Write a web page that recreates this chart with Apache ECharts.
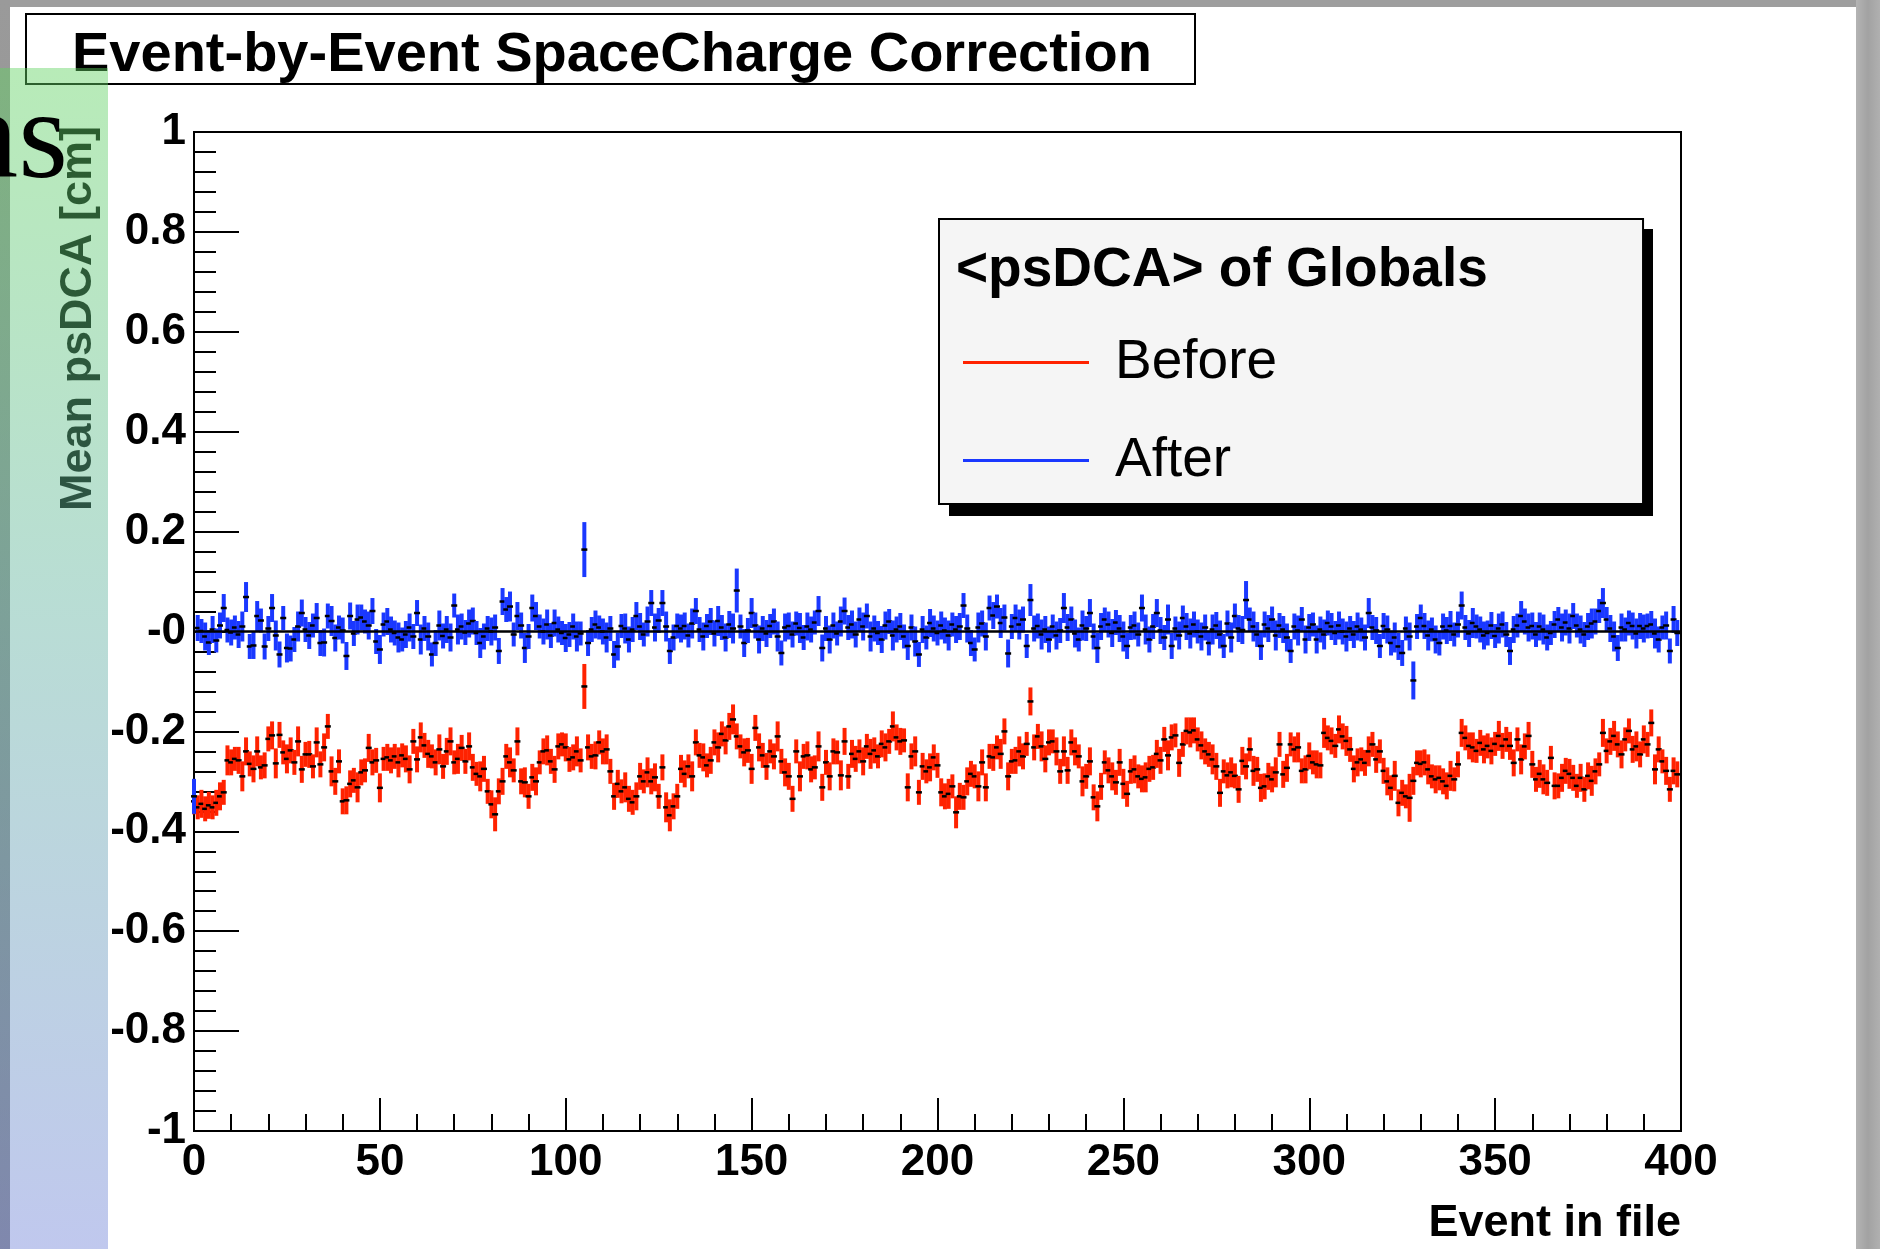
<!DOCTYPE html>
<html>
<head>
<meta charset="utf-8">
<script src="https://cdn.jsdelivr.net/npm/echarts@6/dist/echarts.min.js"></script>
<style>html,body{margin:0;padding:0;background:#fff;}#c{width:1880px;height:1249px;}</style>
</head>
<body>
<div id="c"></div>
<script>
// ---- data ----
const titleText = 'Event-by-Event SpaceCharge Correction';
const legendTitle = '<psDCA> of Globals';
const seriesNames = ['Before', 'After'];
const xTitle = 'Event in file';
const yTitle = 'Mean psDCA [cm]';
const xTicks = [0, 50, 100, 150, 200, 250, 300, 350, 400];
const yTicks = [-1, -0.8, -0.6, -0.4, -0.2, 0, 0.2, 0.4, 0.6, 0.8, 1];

const events = Array.from({length: 400}, (_, i) => i);

const before = [
-0.340,-0.352,-0.345,-0.355,-0.348,-0.352,-0.343,-0.330,-0.322,-0.258,
-0.262,-0.255,-0.258,-0.290,-0.240,-0.265,-0.275,-0.240,-0.272,-0.268,
-0.215,-0.208,-0.264,-0.207,-0.242,-0.255,-0.238,-0.262,-0.220,-0.276,
-0.246,-0.246,-0.270,-0.222,-0.266,-0.232,-0.190,-0.280,-0.300,-0.260,
-0.340,-0.338,-0.305,-0.298,-0.312,-0.282,-0.278,-0.233,-0.262,-0.258,
-0.313,-0.255,-0.252,-0.258,-0.250,-0.262,-0.248,-0.255,-0.276,-0.220,
-0.256,-0.212,-0.228,-0.245,-0.250,-0.262,-0.236,-0.270,-0.240,-0.220,
-0.262,-0.255,-0.233,-0.260,-0.230,-0.272,-0.285,-0.290,-0.275,-0.320,
-0.346,-0.366,-0.320,-0.300,-0.250,-0.262,-0.278,-0.220,-0.300,-0.302,
-0.330,-0.292,-0.300,-0.262,-0.240,-0.238,-0.260,-0.276,-0.230,-0.226,
-0.232,-0.256,-0.252,-0.240,-0.258,-0.110,-0.232,-0.250,-0.248,-0.222,
-0.240,-0.236,-0.280,-0.330,-0.305,-0.320,-0.312,-0.335,-0.342,-0.330,
-0.290,-0.300,-0.282,-0.300,-0.292,-0.330,-0.272,-0.352,-0.368,-0.350,
-0.330,-0.275,-0.285,-0.270,-0.290,-0.222,-0.248,-0.252,-0.268,-0.258,
-0.222,-0.232,-0.205,-0.218,-0.190,-0.176,-0.210,-0.230,-0.242,-0.238,
-0.275,-0.193,-0.232,-0.248,-0.270,-0.240,-0.250,-0.210,-0.260,-0.282,
-0.290,-0.335,-0.240,-0.290,-0.250,-0.248,-0.276,-0.272,-0.230,-0.312,
-0.262,-0.290,-0.240,-0.242,-0.288,-0.220,-0.290,-0.245,-0.255,-0.240,
-0.260,-0.230,-0.245,-0.238,-0.250,-0.225,-0.232,-0.220,-0.190,-0.212,
-0.220,-0.218,-0.312,-0.250,-0.240,-0.322,-0.270,-0.280,-0.272,-0.252,
-0.268,-0.322,-0.330,-0.325,-0.310,-0.362,-0.330,-0.332,-0.300,-0.285,
-0.290,-0.310,-0.262,-0.312,-0.250,-0.252,-0.232,-0.245,-0.200,-0.290,
-0.260,-0.258,-0.240,-0.250,-0.225,-0.140,-0.232,-0.210,-0.230,-0.255,
-0.222,-0.220,-0.240,-0.280,-0.240,-0.278,-0.222,-0.240,-0.250,-0.300,
-0.290,-0.260,-0.332,-0.350,-0.310,-0.262,-0.278,-0.290,-0.302,-0.262,
-0.305,-0.325,-0.280,-0.276,-0.290,-0.295,-0.292,-0.275,-0.272,-0.245,
-0.258,-0.216,-0.248,-0.212,-0.208,-0.263,-0.226,-0.199,-0.202,-0.198,
-0.216,-0.228,-0.240,-0.246,-0.256,-0.270,-0.323,-0.280,-0.288,-0.282,
-0.289,-0.316,-0.259,-0.270,-0.236,-0.279,-0.276,-0.313,-0.310,-0.290,
-0.296,-0.282,-0.226,-0.286,-0.273,-0.226,-0.236,-0.232,-0.279,-0.276,
-0.249,-0.262,-0.266,-0.268,-0.203,-0.213,-0.219,-0.229,-0.196,-0.210,
-0.219,-0.236,-0.275,-0.262,-0.256,-0.263,-0.240,-0.226,-0.256,-0.240,
-0.279,-0.300,-0.313,-0.289,-0.343,-0.323,-0.330,-0.333,-0.299,-0.263,
-0.265,-0.262,-0.276,-0.290,-0.296,-0.293,-0.300,-0.309,-0.289,-0.296,
-0.266,-0.203,-0.213,-0.229,-0.232,-0.239,-0.223,-0.236,-0.229,-0.239,
-0.225,-0.209,-0.229,-0.216,-0.229,-0.263,-0.216,-0.256,-0.230,-0.209,
-0.266,-0.296,-0.285,-0.296,-0.303,-0.253,-0.309,-0.309,-0.293,-0.279,
-0.285,-0.293,-0.309,-0.293,-0.316,-0.289,-0.299,-0.280,-0.266,-0.203,
-0.239,-0.220,-0.209,-0.226,-0.246,-0.216,-0.199,-0.236,-0.230,-0.246,
-0.216,-0.226,-0.183,-0.276,-0.236,-0.260,-0.279,-0.316,-0.279,-0.286
];

const beforeErr = [
.026,.024,.028,.025,.027,.024,.026,.028,.025,.030,
.026,.024,.027,.030,.028,.025,.027,.030,.024,.026,
.025,.028,.030,.026,.024,.029,.026,.025,.030,.027,
.025,.027,.024,.030,.026,.028,.025,.030,.027,.024,
.026,.028,.027,.025,.030,.026,.024,.028,.026,.025,
.029,.024,.027,.026,.025,.030,.024,.027,.028,.025,
.026,.030,.025,.028,.024,.026,.030,.025,.027,.028,
.024,.030,.026,.025,.028,.027,.024,.030,.026,.025,
.028,.034,.026,.027,.025,.030,.024,.028,.026,.030,
.025,.027,.028,.024,.026,.030,.025,.027,.026,.024,
.028,.025,.026,.030,.024,.045,.026,.025,.028,.024,
.026,.030,.025,.027,.028,.024,.030,.026,.025,.028,
.027,.024,.030,.026,.028,.025,.026,.030,.032,.026,
.025,.028,.027,.024,.030,.026,.025,.028,.024,.027,
.026,.030,.025,.028,.027,.030,.026,.024,.028,.025,
.030,.026,.028,.025,.027,.024,.026,.030,.025,.028,
.027,.026,.024,.030,.025,.028,.026,.024,.030,.027,
.025,.028,.026,.024,.030,.027,.025,.028,.026,.024,
.028,.025,.030,.026,.024,.027,.028,.025,.030,.026,
.027,.024,.028,.026,.030,.025,.027,.024,.028,.026,
.025,.028,.026,.030,.024,.032,.027,.025,.028,.026,
.024,.030,.026,.028,.025,.027,.024,.030,.026,.028,
.025,.027,.030,.026,.024,.028,.026,.025,.030,.027,
.026,.024,.028,.025,.030,.027,.026,.028,.024,.030,
.025,.028,.026,.030,.027,.024,.026,.028,.025,.027,
.030,.026,.025,.028,.024,.027,.030,.026,.025,.028,
.027,.025,.030,.026,.024,.028,.025,.027,.030,.026,
.024,.028,.026,.025,.030,.027,.028,.024,.026,.030,
.025,.027,.028,.026,.024,.030,.025,.028,.026,.027,
.026,.030,.025,.027,.028,.024,.026,.030,.025,.028,
.027,.024,.028,.026,.030,.025,.027,.024,.028,.026,
.030,.025,.027,.028,.024,.026,.030,.025,.027,.024,
.026,.028,.025,.030,.027,.026,.024,.048,.028,.025,
.027,.026,.030,.024,.028,.025,.026,.027,.030,.024,
.026,.028,.025,.027,.030,.024,.026,.028,.025,.027,
.024,.030,.026,.025,.028,.027,.024,.030,.026,.028,
.027,.025,.028,.030,.026,.024,.027,.025,.028,.026,
.030,.026,.024,.028,.025,.027,.030,.026,.024,.028,
.025,.027,.030,.026,.028,.024,.025,.027,.030,.026,
.028,.025,.027,.030,.026,.024,.028,.025,.027,.026
];

const after = [
-0.330,0.007,0.001,-0.010,-0.022,0.004,-0.018,0.012,0.047,0.003,
-0.002,0.008,-0.006,0.010,0.069,-0.030,-0.028,0.031,0.022,-0.030,
0.006,0.047,-0.008,-0.046,0.027,-0.033,-0.034,-0.016,0.010,0.037,
0.004,-0.008,0.012,0.027,-0.023,-0.022,0.031,0.021,-0.013,0.008,
0.002,-0.049,0.031,-0.004,0.024,0.028,0.020,0.012,0.041,-0.020,
-0.036,0.014,0.020,0.004,-0.003,-0.012,-0.016,-0.006,0.008,-0.010,
0.037,-0.016,0.006,-0.010,-0.046,-0.023,0.012,-0.009,0.004,-0.012,
0.052,0.004,0.010,-0.002,0.016,0.021,-0.003,-0.023,-0.010,0.006,
0.000,0.008,-0.039,0.060,0.044,0.050,-0.006,0.031,0.012,-0.033,
-0.010,0.047,0.031,0.010,0.000,0.014,-0.008,0.017,0.004,-0.003,
-0.013,-0.006,0.010,-0.010,-0.004,0.164,-0.023,0.004,0.014,0.008,
0.000,-0.012,0.006,-0.046,-0.030,0.011,0.006,-0.016,0.004,0.031,
0.010,-0.006,0.020,0.057,0.008,0.022,0.057,0.010,-0.039,-0.012,
0.011,0.006,0.011,-0.008,0.016,0.041,0.004,-0.010,0.011,0.020,
-0.004,0.021,0.008,-0.012,0.014,0.006,0.082,0.010,-0.023,0.002,
0.037,0.012,-0.016,0.006,-0.004,0.011,0.020,-0.010,-0.043,0.008,
0.011,-0.006,0.016,0.007,-0.012,0.010,0.004,0.018,0.041,-0.033,
0.006,-0.016,0.012,-0.004,0.020,0.041,0.008,0.014,-0.006,0.024,
0.010,0.031,-0.010,0.006,-0.003,-0.016,0.012,0.020,-0.008,0.004,
0.010,-0.010,-0.029,0.008,-0.020,-0.046,0.004,-0.012,0.017,0.006,
-0.003,0.012,0.002,-0.008,0.014,0.004,0.010,0.052,0.006,-0.023,
-0.036,0.008,0.016,-0.010,0.047,0.032,0.050,0.017,0.028,-0.044,
0.010,0.027,0.014,0.024,-0.029,0.063,0.006,0.011,-0.006,0.004,
-0.016,0.010,-0.008,0.002,0.047,0.008,0.024,-0.004,-0.016,0.012,
0.006,0.037,-0.010,-0.033,0.010,0.024,0.014,-0.003,0.018,0.006,
-0.010,-0.029,0.008,0.012,-0.006,0.047,0.004,-0.016,0.010,0.037,
0.002,-0.012,0.024,-0.029,0.006,-0.008,0.027,0.010,-0.004,0.014,
0.000,-0.010,0.008,-0.023,0.004,0.012,-0.006,-0.029,0.016,-0.012,
0.031,0.006,0.003,0.063,0.024,0.010,-0.006,-0.029,0.014,0.006,
0.024,-0.008,0.012,0.004,-0.012,-0.039,0.010,0.002,0.024,-0.016,
0.008,0.014,-0.016,0.004,-0.006,0.017,0.010,-0.003,0.012,0.000,
-0.010,0.006,-0.006,0.010,0.004,-0.012,0.037,0.008,0.002,-0.029,
0.011,0.004,-0.023,-0.012,-0.030,-0.043,0.006,-0.010,-0.098,0.010,
0.027,0.011,-0.008,0.004,-0.016,-0.023,0.010,0.002,0.011,-0.006,
0.014,0.052,0.008,-0.004,0.017,0.010,0.004,-0.008,-0.003,0.012,
-0.009,0.006,0.014,-0.006,-0.039,0.004,0.012,0.031,0.020,0.008,
0.011,-0.006,0.010,0.004,-0.012,-0.003,0.014,0.024,0.008,0.018,
0.006,0.031,0.012,0.004,-0.006,0.010,0.016,0.020,0.041,0.057,
0.024,0.006,-0.010,-0.033,0.008,0.004,0.017,0.011,-0.004,0.011,
0.006,0.011,0.014,-0.004,-0.016,0.008,0.012,-0.039,0.024,-0.003
];

const afterErr = [
.035,.026,.024,.028,.025,.027,.024,.026,.028,.025,
.026,.024,.027,.030,.030,.025,.027,.030,.024,.026,
.025,.028,.030,.026,.024,.029,.026,.025,.030,.027,
.025,.027,.024,.030,.026,.028,.025,.030,.027,.024,
.026,.028,.027,.025,.030,.026,.024,.028,.026,.025,
.029,.024,.027,.026,.025,.030,.024,.027,.028,.025,
.026,.030,.025,.028,.024,.026,.030,.025,.027,.028,
.024,.030,.026,.025,.028,.027,.024,.030,.026,.025,
.028,.026,.026,.027,.025,.030,.024,.028,.026,.030,
.025,.027,.028,.024,.026,.030,.025,.027,.026,.024,
.028,.025,.026,.030,.024,.055,.026,.025,.028,.024,
.026,.030,.025,.027,.028,.024,.030,.026,.025,.028,
.027,.024,.030,.026,.028,.025,.026,.030,.026,.026,
.025,.028,.027,.024,.030,.026,.025,.028,.024,.027,
.026,.030,.025,.028,.027,.030,.044,.024,.028,.025,
.030,.026,.028,.025,.027,.024,.026,.030,.025,.028,
.027,.026,.024,.030,.025,.028,.026,.024,.030,.027,
.025,.028,.026,.024,.030,.027,.025,.028,.026,.024,
.028,.025,.030,.026,.024,.027,.028,.025,.030,.026,
.027,.024,.028,.026,.030,.025,.027,.024,.028,.026,
.025,.028,.026,.030,.024,.027,.027,.025,.028,.026,
.024,.030,.026,.028,.025,.027,.024,.030,.026,.028,
.025,.027,.030,.026,.024,.032,.026,.025,.030,.027,
.026,.024,.028,.025,.030,.027,.026,.028,.024,.030,
.025,.028,.026,.030,.027,.024,.026,.028,.025,.027,
.030,.026,.025,.028,.024,.027,.030,.026,.025,.028,
.027,.025,.030,.026,.024,.028,.025,.027,.030,.026,
.024,.028,.026,.025,.030,.027,.028,.024,.026,.030,
.025,.027,.028,.038,.024,.030,.025,.028,.026,.027,
.026,.030,.025,.027,.028,.024,.026,.030,.025,.028,
.027,.024,.028,.026,.030,.025,.027,.024,.028,.026,
.030,.025,.027,.028,.024,.026,.030,.025,.027,.024,
.026,.028,.025,.030,.027,.026,.024,.028,.038,.025,
.027,.026,.030,.024,.028,.025,.026,.027,.030,.024,
.026,.028,.025,.027,.030,.024,.026,.028,.025,.027,
.024,.030,.026,.025,.028,.027,.024,.030,.026,.028,
.027,.025,.028,.030,.026,.024,.027,.025,.028,.026,
.030,.026,.024,.028,.025,.027,.030,.026,.024,.030,
.025,.027,.030,.026,.028,.024,.025,.027,.030,.026,
.028,.025,.027,.030,.026,.024,.028,.025,.027,.026
];

// ---- styling ----
const RED = '#ff2200';
const BLUE = '#1a38ff';
const SANS = '"Liberation Sans", Arial, Helvetica, sans-serif';

function errRenderer(color) {
  return function (params, api) {
    const x = api.value(0), v = api.value(1), e = api.value(2);
    const p1 = api.coord([x, v + e]);
    const p2 = api.coord([x, v - e]);
    const c = api.coord([x, v]);
    return {
      type: 'group',
      children: [
        {type: 'line', shape: {x1: p1[0], y1: p1[1], x2: p2[0], y2: p2[1]}, style: {stroke: color, lineWidth: 4}},
        {type: 'rect', shape: {x: c[0] - 3, y: c[1] - 1.25, width: 6, height: 2.5}, style: {fill: '#000'}}
      ]
    };
  };
}

const chart = echarts.init(document.getElementById('c'), null, {renderer: 'canvas'});

const option = {
  backgroundColor: '#ffffff',
  animation: false,
  title: {
    text: titleText,
    left: 26, top: 14,
    padding: [14, 43, 0, 46],
    borderColor: '#000', borderWidth: 2, backgroundColor: '#fff',
    textStyle: {fontSize: 56, fontWeight: 'bold', color: '#000', fontFamily: SANS, lineHeight: 56}
  },
  legend: {
    orient: 'vertical',
    left: 939, top: 219,
    padding: [116, 366, 16, 24],
    itemGap: 43, itemWidth: 126, itemHeight: 3, icon: 'rect',
    backgroundColor: '#f5f5f5', borderColor: '#000', borderWidth: 2,
    textStyle: {fontSize: 55, color: '#000', fontFamily: SANS, lineHeight: 55, padding: [0, 0, 0, 21]},
    data: [
      {name: seriesNames[0], itemStyle: {color: RED}},
      {name: seriesNames[1], itemStyle: {color: BLUE}}
    ],
    selectedMode: false
  },
  grid: {
    left: 194, top: 132, width: 1487, height: 999,
    show: true, borderColor: '#000', borderWidth: 2, backgroundColor: '#fff'
  },
  xAxis: {
    type: 'value', min: xTicks[0], max: xTicks[xTicks.length - 1], interval: 50,
    axisLine: {onZero: false, lineStyle: {color: '#000', width: 2}},
    axisTick: {inside: true, length: 33, lineStyle: {color: '#000', width: 2}},
    minorTick: {show: true, splitNumber: 5, length: 17, lineStyle: {color: '#000', width: 2}},
    splitLine: {show: false},
    axisLabel: {fontSize: 44, fontWeight: 'bold', color: '#000', fontFamily: SANS, margin: 10}
  },
  yAxis: {
    type: 'value', min: yTicks[0], max: yTicks[yTicks.length - 1], interval: 0.2,
    axisLine: {lineStyle: {color: '#000', width: 2}},
    axisTick: {inside: true, length: 45, lineStyle: {color: '#000', width: 2}},
    minorTick: {show: true, splitNumber: 5, length: 22, lineStyle: {color: '#000', width: 2}},
    splitLine: {show: false},
    axisLabel: {
      fontSize: 44, fontWeight: 'bold', color: '#000', fontFamily: SANS, margin: 8,
      formatter: function (v) { return Math.abs(v) < 1e-9 ? '-0' : String(+v.toFixed(1)); }
    }
  },
  series: [
    {
      name: seriesNames[0], type: 'custom',
      itemStyle: {color: RED},
      encode: {x: 0, y: 1},
      renderItem: errRenderer(RED),
      data: events.map((e, i) => [e, before[i], beforeErr[i]]),
      z: 2
    },
    {
      name: seriesNames[1], type: 'custom',
      itemStyle: {color: BLUE},
      encode: {x: 0, y: 1},
      renderItem: errRenderer(BLUE),
      data: events.map((e, i) => [e, after[i], afterErr[i]]),
      z: 2,
      markLine: {
        silent: true, symbol: 'none', label: {show: false},
        lineStyle: {color: '#000', width: 2.5, type: 'solid'},
        data: [{yAxis: 0}]
      }
    }
  ],
  graphic: [
    // slide background edges
    {type: 'rect', z: 0, shape: {x: 0, y: 0, width: 1880, height: 7},
      style: {fill: '#9e9e9e'}},
    {type: 'rect', z: 0, shape: {x: 0, y: 0, width: 10, height: 1249},
      style: {fill: {type: 'linear', x: 0, y: 0, x2: 0, y2: 1, colorStops: [{offset: 0, color: '#9a9a9a'}, {offset: 1, color: '#8a8a8a'}]}}},
    {type: 'rect', z: 0, shape: {x: 1856, y: 0, width: 24, height: 1249},
      style: {fill: {type: 'linear', x: 0, y: 0, x2: 1, y2: 0, colorStops: [{offset: 0, color: '#b4b4b4'}, {offset: 0.5, color: '#a2a2a2'}, {offset: 1, color: '#b0b0b0'}]}}},
    // legend box shadow
    {type: 'rect', z: 3, shape: {x: 949, y: 229, width: 704, height: 287},
      style: {fill: '#000'}},
    // axis titles
    {type: 'text', z: 5, x: 79, y: 126, rotation: Math.PI / 2,
      style: {text: yTitle, font: 'bold 45px ' + SANS, fill: '#000', align: 'right', verticalAlign: 'middle'}},
    {type: 'text', z: 5, x: 1681, y: 1224,
      style: {text: xTitle, font: 'bold 45px ' + SANS, fill: '#000', align: 'right', verticalAlign: 'middle'}},
    // legend header
    {type: 'text', z: 20, x: 956, y: 271,
      style: {text: legendTitle, font: 'bold 55px ' + SANS, fill: '#000', align: 'left', verticalAlign: 'middle'}},
    // translucent slide panel on the left
    {type: 'rect', z: 100, shape: {x: 0, y: 68, width: 108, height: 1181},
      style: {fill: {type: 'linear', x: 0, y: 0, x2: 0, y2: 1, colorStops: [
        {offset: 0, color: 'rgba(97,211,97,0.45)'},
        {offset: 0.45, color: 'rgba(99,180,160,0.45)'},
        {offset: 1, color: 'rgba(115,133,217,0.45)'}]}}},
    // slide text fragment
    {type: 'text', z: 101, x: 68, y: 143,
      style: {text: 'ns', font: '128px "Liberation Serif", "DejaVu Serif", serif', fill: '#000', align: 'right', verticalAlign: 'middle'}}
  ]
};
chart.setOption(option);
</script>
</body>
</html>
